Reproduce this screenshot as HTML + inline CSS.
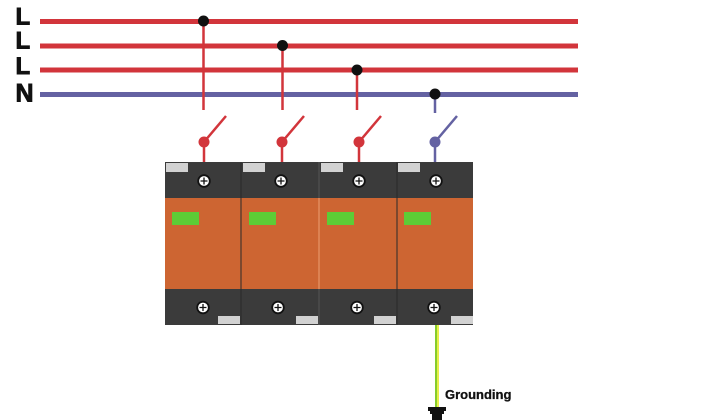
<!DOCTYPE html>
<html><head><meta charset="utf-8"><style>
html,body{margin:0;padding:0;background:#fff;}
svg{display:block;}
</style></head><body>
<svg width="728" height="420" viewBox="0 0 728 420" xmlns="http://www.w3.org/2000/svg">
<rect width="728" height="420" fill="#fff"/>
<g font-family="Liberation Sans, sans-serif" font-weight="bold" fill="#111" stroke="#111" stroke-width="0.9">
<text x="15.5" y="24.5" font-size="24">L</text>
<text x="15.5" y="48.5" font-size="24">L</text>
<text x="15.5" y="74" font-size="24">L</text>
<text x="15.5" y="101.5" font-size="25">N</text>
</g>
<!-- bus lines -->
<rect x="40" y="19" width="538" height="5" fill="#d2353b"/>
<rect x="40" y="43.5" width="538" height="5" fill="#d2353b"/>
<rect x="40" y="67.5" width="538" height="5" fill="#d2353b"/>
<rect x="40" y="92" width="538" height="5" fill="#6462a2"/>
<!-- drops -->
<g stroke-width="2.5" fill="none">
<line x1="203.5" y1="21" x2="203.5" y2="110" stroke="#d2353b"/>
<line x1="282.5" y1="45" x2="282.5" y2="110" stroke="#d2353b"/>
<line x1="357" y1="70" x2="357" y2="110" stroke="#d2353b"/>
<line x1="435" y1="94" x2="435" y2="113" stroke="#6462a2"/>
<!-- switches -->
<line x1="204" y1="142" x2="204" y2="163" stroke="#d2353b"/>
<line x1="204" y1="142" x2="226" y2="116" stroke="#d2353b"/>
<line x1="282" y1="142" x2="282" y2="163" stroke="#d2353b"/>
<line x1="282" y1="142" x2="304" y2="116" stroke="#d2353b"/>
<line x1="359" y1="142" x2="359" y2="163" stroke="#d2353b"/>
<line x1="359" y1="142" x2="381" y2="116" stroke="#d2353b"/>
<line x1="435" y1="142" x2="435" y2="163" stroke="#6462a2"/>
<line x1="435" y1="142" x2="457" y2="116" stroke="#6462a2"/>
</g>
<circle cx="204" cy="142" r="5.5" fill="#d2353b"/>
<circle cx="282" cy="142" r="5.5" fill="#d2353b"/>
<circle cx="359" cy="142" r="5.5" fill="#d2353b"/>
<circle cx="435" cy="142" r="5.5" fill="#6462a2"/>
<circle cx="203.5" cy="21" r="5.5" fill="#111"/>
<circle cx="282.5" cy="45.5" r="5.5" fill="#111"/>
<circle cx="357" cy="70" r="5.5" fill="#111"/>
<circle cx="435" cy="94" r="5.5" fill="#111"/>
<!-- grounding wire -->
<rect x="435" y="325" width="2" height="83" fill="#86cc2c"/>
<rect x="437" y="325" width="2" height="83" fill="#e6ee4a"/>
<!-- modules -->
<rect x="165" y="162" width="308" height="163" fill="#3b3b3b"/>
<rect x="165" y="198" width="308" height="91" fill="#cd6532"/>
<line x1="241" y1="162" x2="241" y2="325" stroke="#2a2a2a" stroke-width="1"/>
<line x1="319" y1="198" x2="319" y2="289" stroke="#eaa071" stroke-width="1"/>
<line x1="319" y1="162" x2="319" y2="198" stroke="#555" stroke-width="1"/>
<line x1="319" y1="289" x2="319" y2="325" stroke="#555" stroke-width="1"/>
<line x1="397" y1="162" x2="397" y2="325" stroke="#2a2a2a" stroke-width="1"/>
<g fill="#d2d2d2">
<rect x="166" y="163" width="22" height="9"/>
<rect x="243" y="163" width="22" height="9"/>
<rect x="321" y="163" width="22" height="9"/>
<rect x="398" y="163" width="22" height="9"/>
<rect x="218" y="316" width="22" height="8"/>
<rect x="296" y="316" width="22" height="8"/>
<rect x="374" y="316" width="22" height="8"/>
<rect x="451" y="316" width="22" height="8"/>
</g>
<g fill="#5dcc36">
<rect x="172" y="212" width="27" height="13"/>
<rect x="249" y="212" width="27" height="13"/>
<rect x="327" y="212" width="27" height="13"/>
<rect x="404" y="212" width="27" height="13"/>
</g>
<g stroke="#111">
<g transform="translate(204,181)"><circle r="5.8" fill="#fff" stroke-width="1.8"/><path d="M-3.5 0H3.5M0 -3.5V3.5" stroke-width="1.3"/></g>
<g transform="translate(281,181)"><circle r="5.8" fill="#fff" stroke-width="1.8"/><path d="M-3.5 0H3.5M0 -3.5V3.5" stroke-width="1.3"/></g>
<g transform="translate(359,181)"><circle r="5.8" fill="#fff" stroke-width="1.8"/><path d="M-3.5 0H3.5M0 -3.5V3.5" stroke-width="1.3"/></g>
<g transform="translate(436,181)"><circle r="5.8" fill="#fff" stroke-width="1.8"/><path d="M-3.5 0H3.5M0 -3.5V3.5" stroke-width="1.3"/></g>
<g transform="translate(203,307.5)"><circle r="5.8" fill="#fff" stroke-width="1.8"/><path d="M-3.5 0H3.5M0 -3.5V3.5" stroke-width="1.3"/></g>
<g transform="translate(278,307.5)"><circle r="5.8" fill="#fff" stroke-width="1.8"/><path d="M-3.5 0H3.5M0 -3.5V3.5" stroke-width="1.3"/></g>
<g transform="translate(357,307.5)"><circle r="5.8" fill="#fff" stroke-width="1.8"/><path d="M-3.5 0H3.5M0 -3.5V3.5" stroke-width="1.3"/></g>
<g transform="translate(434,307.5)"><circle r="5.8" fill="#fff" stroke-width="1.8"/><path d="M-3.5 0H3.5M0 -3.5V3.5" stroke-width="1.3"/></g>
</g>
<!-- ground symbol -->
<g fill="#111">
<rect x="428" y="407" width="18" height="4"/>
<rect x="430" y="411" width="14" height="3"/>
<rect x="432" y="414" width="10" height="6"/>
</g>
<text x="445" y="399" font-family="Liberation Sans, sans-serif" font-weight="bold" font-size="13" fill="#111" stroke="#111" stroke-width="0.3">Grounding</text>
</svg>
</body></html>
